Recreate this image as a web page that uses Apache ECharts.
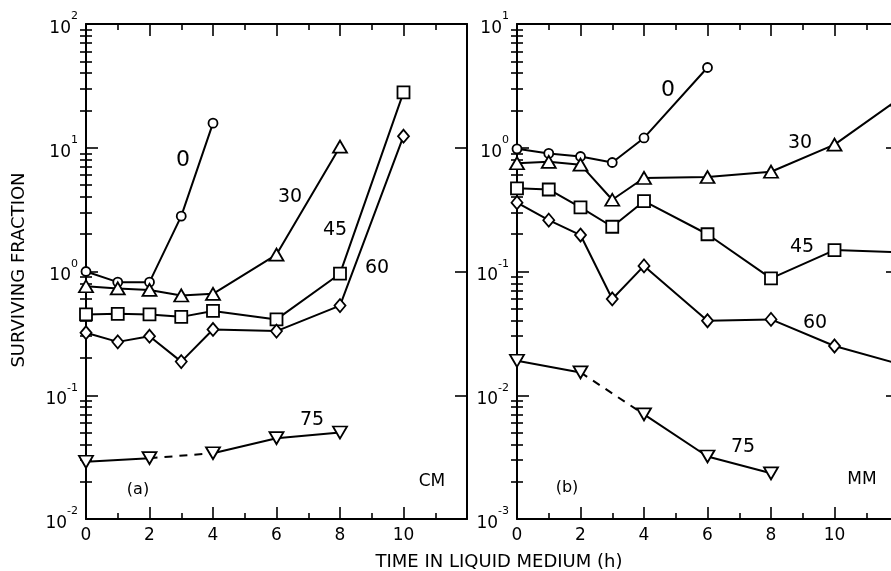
<!DOCTYPE html>
<html><head><meta charset="utf-8">
<script src="https://cdn.jsdelivr.net/npm/echarts@6/dist/echarts.min.js"></script>
<style>html,body{margin:0;padding:0;background:#fff}#c{width:891px;height:571px}</style>
</head><body><div id="c"></div>
<script>
// ---- data: panel (a) CM ----
const a0x = [0, 1, 2, 3, 4];
const a0y = [1.0, 0.82, 0.82, 2.8, 15.8];
const a30x = [0, 1, 2, 3, 4, 6, 8];
const a30y = [0.76, 0.73, 0.71, 0.64, 0.66, 1.37, 10.2];
const a45x = [0, 1, 2, 3, 4, 6, 8, 10];
const a45y = [0.45, 0.455, 0.45, 0.43, 0.48, 0.41, 0.96, 28];
const a60x = [0, 1, 2, 3, 4, 6, 8, 10];
const a60y = [0.32, 0.27, 0.30, 0.187, 0.34, 0.33, 0.53, 12.4];
const a75x = [0, 2, 4, 6, 8];
const a75y = [0.029, 0.031, 0.034, 0.045, 0.050];
// ---- data: panel (b) MM ----
const b0x = [0, 1, 2, 3, 4, 6];
const b0y = [0.98, 0.9, 0.85, 0.76, 1.2, 4.45];
const b30x = [0, 1, 2, 3, 4, 6, 8, 10, 12];
const b30y = [0.75, 0.77, 0.73, 0.38, 0.57, 0.58, 0.64, 1.06, 2.45];
const b45x = [0, 1, 2, 3, 4, 6, 8, 10, 12];
const b45y = [0.47, 0.46, 0.33, 0.23, 0.37, 0.20, 0.088, 0.149, 0.143];
const b60x = [0, 1, 2, 3, 4, 6, 8, 10, 12];
const b60y = [0.36, 0.26, 0.197, 0.06, 0.111, 0.040, 0.041, 0.025, 0.018];
const b75x = [0, 2, 4, 6, 8];
const b75y = [0.019, 0.0153, 0.0070, 0.0032, 0.00234];
// ---- labels ----
const xTickLabels = [0, 2, 4, 6, 8, 10];
const curveLabels = ['0', '30', '45', '60', '75'];
const panelLabels = ['(a)', '(b)'];
const mediumLabels = ['CM', 'MM'];
const yTitle = 'SURVIVING FRACTION';
const xTitle = 'TIME IN LIQUID MEDIUM (h)';

const FONT = 'DejaVu Sans';
function minorExps(lo, hi) {
  const out = [];
  for (let d = lo; d < hi; d++) for (let k = 2; k <= 9; k++) out.push(Math.log10(k) + d);
  return out;
}
function mkX(gi, pos, labels) {
  return {
    type: 'value', gridIndex: gi, position: pos, min: 0, max: 12, interval: 2,
    axisLine: { show: true, onZero: false, lineStyle: { color: '#000', width: 2 } },
    axisTick: { show: true, inside: true, length: 12, lineStyle: { color: '#000', width: 1.6 } },
    minorTick: { show: true, splitNumber: 2, length: 6, lineStyle: { color: '#000', width: 1.6 } },
    splitLine: { show: false }, minorSplitLine: { show: false },
    axisLabel: {
      show: labels, margin: 8, color: '#000', fontFamily: FONT, fontSize: 17,
      formatter: v => (xTickLabels.indexOf(v) >= 0 ? String(v) : '')
    }
  };
}
function mkYLog(gi, pos, lo, hi, labels) {
  return {
    type: 'log', logBase: 10, gridIndex: gi, position: pos, min: lo, max: hi,
    axisLine: { show: true, onZero: false, lineStyle: { color: '#000', width: 2 } },
    axisTick: { show: true, inside: true, length: 12, lineStyle: { color: '#000', width: 1.6 } },
    splitLine: { show: false },
    axisLabel: {
      show: labels, margin: 8, color: '#000', fontFamily: FONT,
      formatter: v => '{b|10}{s|' + Math.round(Math.log10(v)) + '}',
      rich: {
        b: { fontSize: 17, fontFamily: FONT, color: '#000', lineHeight: 26, verticalAlign: 'bottom' },
        s: { fontSize: 11, fontFamily: FONT, color: '#000', lineHeight: 26, verticalAlign: 'top' }
      }
    }
  };
}
function mkYMinor(gi, pos, lo, hi) {
  return {
    type: 'value', gridIndex: gi, position: pos, min: lo, max: hi,
    axisLine: { show: false }, splitLine: { show: false },
    axisLabel: { show: false },
    axisTick: { show: true, inside: true, length: 6, customValues: minorExps(lo, hi), lineStyle: { color: '#000', width: 1.6 } }
  };
}
const LS = { color: '#000', width: 2 };
function mkSeries(xs, ys, xi, yi, symbol, size, rot, dashFrom) {
  const pts = xs.map((x, i) => [x, ys[i]]);
  const base = {
    type: 'line', xAxisIndex: xi, yAxisIndex: yi, symbol: symbol, symbolSize: size,
    symbolRotate: rot || 0, showSymbol: true, animation: false, silent: true,
    itemStyle: { color: '#fff', borderColor: '#000', borderWidth: 1.8 },
    lineStyle: LS, z: 3
  };
  if (dashFrom == null) return [Object.assign({}, base, { data: pts })];
  return [
    Object.assign({}, base, { data: pts.slice(0, dashFrom + 1) }),
    Object.assign({}, base, { data: pts.slice(dashFrom + 1) }),
    Object.assign({}, base, { data: pts.slice(dashFrom, dashFrom + 2), showSymbol: false, symbol: 'none', z: 2,
      lineStyle: { color: '#000', width: 2, type: [8, 7] } })
  ];
}
const series = [].concat(
  mkSeries(a0x, a0y, 0, 0, 'circle', 9),
  mkSeries(a30x, a30y, 0, 0, 'triangle', [14, 12]),
  mkSeries(a45x, a45y, 0, 0, 'rect', 12),
  mkSeries(a60x, a60y, 0, 0, 'diamond', [11, 13]),
  mkSeries(a75x, a75y, 0, 0, 'triangle', [14, 12], 180, 1),
  mkSeries(b0x, b0y, 2, 4, 'circle', 9),
  mkSeries(b30x, b30y, 2, 4, 'triangle', [14, 12]),
  mkSeries(b45x, b45y, 2, 4, 'rect', 12),
  mkSeries(b60x, b60y, 2, 4, 'diamond', [11, 13]),
  mkSeries(b75x, b75y, 2, 4, 'triangle', [14, 12], 180, 1)
);
function txt(s, x, y, size, rot) {
  return { type: 'text', x: x, y: y, rotation: rot || 0, silent: true,
    style: { text: s, fill: '#000', font: size + 'px "' + FONT + '"', align: 'center', verticalAlign: 'middle' } };
}
const graphics = [
  txt(curveLabels[0], 183, 160, 22), txt(curveLabels[1], 290, 197, 19), txt(curveLabels[2], 335, 230, 19),
  txt(curveLabels[3], 377, 268, 19), txt(curveLabels[4], 312, 420, 19),
  txt(panelLabels[0], 138, 490, 16), txt(mediumLabels[0], 432, 482, 17),
  txt(curveLabels[0], 668, 90, 22), txt(curveLabels[1], 800, 143, 19), txt(curveLabels[2], 802, 247, 19),
  txt(curveLabels[3], 815, 323, 19), txt(curveLabels[4], 743, 447, 19),
  txt(panelLabels[1], 567, 488, 16), txt(mediumLabels[1], 862, 480, 17),
  txt(yTitle, 19, 270, 18, Math.PI / 2),
  txt(xTitle, 499, 562, 18)
];
const chart = echarts.init(document.getElementById('c'), null, { renderer: 'canvas' });
chart.setOption({
  backgroundColor: '#fff',
  animation: false,
  grid: [
    { left: 86, top: 24, width: 381, height: 495, containLabel: false, outerBoundsMode: 'none' },
    { left: 517, top: 24, width: 381, height: 495, containLabel: false, outerBoundsMode: 'none' }
  ],
  xAxis: [mkX(0, 'bottom', true), mkX(0, 'top', false), mkX(1, 'bottom', true), mkX(1, 'top', false)],
  yAxis: [
    mkYLog(0, 'left', 0.01, 100, true), mkYLog(0, 'right', 0.01, 100, false),
    mkYMinor(0, 'left', -2, 2), mkYMinor(0, 'right', -2, 2),
    mkYLog(1, 'left', 0.001, 10, true), mkYLog(1, 'right', 0.001, 10, false),
    mkYMinor(1, 'left', -3, 1), mkYMinor(1, 'right', -3, 1)
  ],
  series: series,
  graphic: graphics
});
</script></body></html>
